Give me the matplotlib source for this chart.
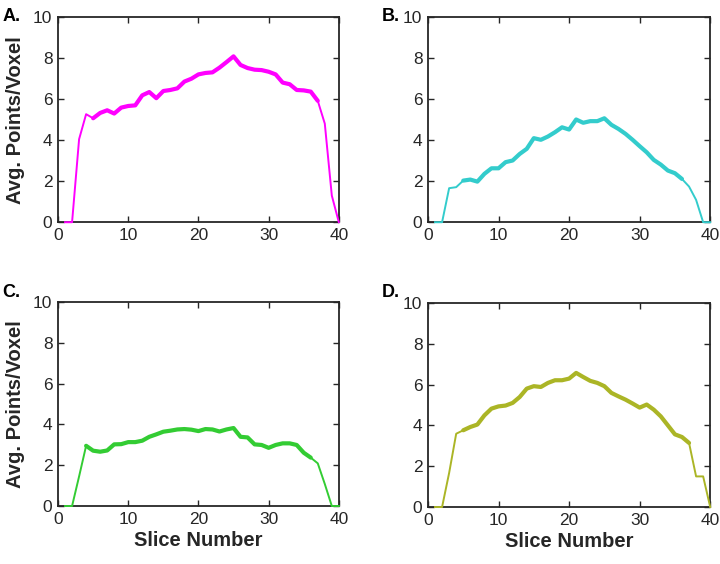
import numpy as np
from matplotlib import pyplot as plt

plt.rcParams['font.family'] = ['Liberation Sans', 'DejaVu Sans']

slices = np.arange(1, 41)

points_a = [0, 0, 4.05, 5.27, 5.07, 5.33, 5.46, 5.30, 5.59, 5.67,
            5.70, 6.19, 6.35, 6.05, 6.40, 6.45, 6.53, 6.86, 7.00, 7.21,
            7.28, 7.31, 7.54, 7.81, 8.09, 7.67, 7.52, 7.44, 7.42, 7.34,
            7.21, 6.81, 6.73, 6.45, 6.43, 6.37, 5.92, 4.81, 1.30, 0]
points_b = [0, 0, 1.66, 1.71, 2.03, 2.08, 1.98, 2.36, 2.63, 2.63,
            2.93, 3.01, 3.33, 3.58, 4.10, 4.02, 4.18, 4.39, 4.63, 4.52,
            5.01, 4.85, 4.93, 4.93, 5.07, 4.75, 4.55, 4.31, 4.02, 3.71,
            3.41, 3.04, 2.81, 2.52, 2.39, 2.11, 1.74, 1.09, 0, 0]
points_c = [0, 0, 1.45, 2.95, 2.71, 2.66, 2.72, 3.02, 3.03, 3.13,
            3.13, 3.20, 3.39, 3.51, 3.64, 3.69, 3.75, 3.77, 3.74, 3.67,
            3.77, 3.75, 3.65, 3.75, 3.82, 3.39, 3.36, 3.02, 2.99, 2.85,
            2.99, 3.07, 3.07, 2.99, 2.61, 2.37, 2.09, 1.08, 0, 0]
points_d = [0, 0, 1.67, 3.59, 3.76, 3.92, 4.04, 4.49, 4.82, 4.93,
            4.97, 5.10, 5.39, 5.80, 5.92, 5.88, 6.08, 6.21, 6.21, 6.29,
            6.57, 6.37, 6.18, 6.08, 5.92, 5.59, 5.42, 5.26, 5.07, 4.87,
            5.02, 4.77, 4.44, 4.00, 3.56, 3.43, 3.14, 1.50, 1.50, 0]

panels = [
    ('A.', points_a, '#ff00ff', (5, 37), [0.0806, 0.606, 0.390, 0.3635]),
    ('B.', points_b, '#33cccc', (5, 36), [0.5944, 0.606, 0.392, 0.3635]),
    ('C.', points_c, '#33cc33', (4, 36), [0.0806, 0.1028, 0.390, 0.362]),
    ('D.', points_d, '#abb526', (5, 37), [0.5944, 0.1010, 0.392, 0.362]),
]

fig = plt.figure(figsize=(7.2, 5.64), dpi=100)

for i, (tag, vals, color, (t0, t1), pos) in enumerate(panels):
    ax = fig.add_axes(pos)
    vals = np.array(vals)
    # thin trace everywhere, thicker over the middle slices
    ax.plot(slices, vals, color=color, lw=1.4, zorder=3, clip_on=False)
    thick = (slices >= t0) & (slices <= t1)
    ax.plot(slices[thick], vals[thick], color=color, lw=3.0, zorder=3,
            solid_joinstyle='round', solid_capstyle='round')

    ax.set_xlim(0, 40)
    ax.set_ylim(0, 10)
    ax.set_xticks([0, 10, 20, 30, 40])
    ax.set_yticks([0, 2, 4, 6, 8, 10])
    ax.tick_params(direction='in', top=True, right=True, length=4,
                   width=1.0, labelsize=12.5, colors='#262626', pad=4)
    for s in ax.spines.values():
        s.set_linewidth(1.3)
        s.set_color('#262626')

    if i % 2 == 0:
        ax.set_ylabel('Avg. Points/Voxel', fontsize=14.5, fontweight='bold',
                      color='#262626', labelpad=6)
    if i >= 2:
        ax.set_xlabel('Slice Number', fontsize=14.5, fontweight='bold',
                      color='#262626', labelpad=3)

    x_tag = 0.003 if i % 2 == 0 else 0.530
    y_tag = 0.985 if i < 2 else 0.497
    fig.text(x_tag, y_tag, tag, fontsize=13, fontweight='bold', va='top')

fig.savefig('out.png', dpi=100)
